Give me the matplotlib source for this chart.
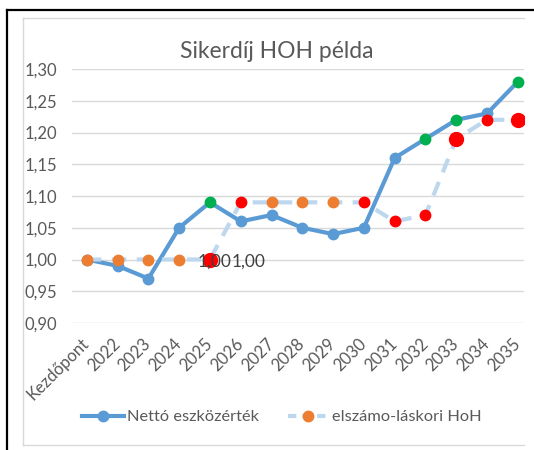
import matplotlib
matplotlib.use("Agg")
import matplotlib.pyplot as plt
from matplotlib.lines import Line2D

categories = ["Kezdőpont", "2022", "2023", "2024", "2025", "2026", "2027", "2028",
              "2029", "2030", "2031", "2032", "2033", "2034", "2035"]
netto = [1.00, 0.99, 0.97, 1.05, 1.09, 1.06, 1.07, 1.05, 1.04, 1.05, 1.16, 1.19, 1.22, 1.23, 1.28]
netto_colors = ["blue", "blue", "blue", "blue", "green", "blue", "blue", "blue", "blue",
                "blue", "blue", "green", "green", "blue", "green"]
hoh = [1.00, 1.00, 1.00, 1.00, 1.00, 1.09, 1.09, 1.09, 1.09, 1.09, 1.06, 1.07, 1.19, 1.22, 1.22]
hoh_colors = ["orange", "orange", "orange", "orange", "red", "red", "orange", "orange", "orange",
              "red", "red", "red", "red", "red", "red"]
hoh_big = [False, False, False, False, True, False, False, False, False,
           False, False, False, True, False, True]
yticks = [0.90, 0.95, 1.00, 1.05, 1.10, 1.15, 1.20, 1.25, 1.30]
title = "Sikerdíj HOH példa"
series_names = ["Nettó eszközérték", "elszámo-láskori HoH"]

palette = {"blue": "#5B9BD5", "green": "#00B050", "orange": "#ED7D31", "red": "#FF0000"}
TXT = "#595959"
FONT = ["Lato", "DejaVu Sans"]
plt.rcParams["font.family"] = FONT

W, H = 534, 450
fig = plt.figure(figsize=(W / 100, H / 100), dpi=100)

def fx(x): return x / W
def fy(y): return 1 - y / H

# borders
fig.add_artist(Line2D([fx(7), fx(7)], [fy(10), fy(452)], color="black", lw=1.6))
fig.add_artist(Line2D([fx(7), fx(536)], [fy(10), fy(10)], color="black", lw=1.6))
fig.add_artist(Line2D([fx(22.5), fx(22.5)], [fy(18), fy(445)], color="#D9D9D9", lw=1.0))
fig.add_artist(Line2D([fx(22.5), fx(524)], [fy(18), fy(18)], color="#D9D9D9", lw=1.0))
fig.add_artist(Line2D([fx(22.5), fx(524)], [fy(445), fy(445)], color="#D9D9D9", lw=1.0))

ax = fig.add_axes([fx(72), fy(323), fx(524) - fx(72), fy(69) - fy(323)])
x = list(range(len(categories)))

ax.plot(x, netto, color=palette["blue"], lw=3, solid_capstyle="round", zorder=3)
for xi, v, c in zip(x, netto, netto_colors):
    ax.plot(xi, v, "o", color=palette[c], ms=7.5, mec=palette[c], zorder=4)

ax.plot(x, hoh, color="#BDD7EE", lw=3, dashes=(3.5, 2.5), zorder=5)
for xi, v, c, b in zip(x, hoh, hoh_colors, hoh_big):
    ax.plot(xi, v, "o", color=palette[c], ms=10 if b else 7.5, mec=palette[c], zorder=6)

# data labels (two labels at the same point, side by side as in the reference)
lab1 = ax.annotate("1,00", (x[4], hoh[4]), xytext=(-9, -1.5), textcoords="offset points",
                   ha="left", va="center", fontsize=12.5, color="#404040", zorder=7)
ax.annotate("1,00", xy=(1.0, 0.5), xycoords=lab1, ha="left", va="center",
            fontsize=12.5, color="#404040", zorder=7)

ax.set_xlim(-0.48, 14.2)
ax.set_ylim(0.90, 1.30)
ax.set_yticks(yticks)
ax.set_yticklabels([f"{v:.2f}".replace(".", ",") for v in yticks])
ax.set_xticks(x)
ax.set_xticklabels(categories, rotation=45, ha="right", rotation_mode="anchor", va="center")
ax.tick_params(axis="both", length=0, labelsize=12, labelcolor=TXT)
ax.tick_params(axis="y", pad=10.5)
ax.tick_params(axis="x", pad=13)
ax.grid(axis="y", color="#D9D9D9", lw=1.0)
ax.set_axisbelow(True)
for s in ax.spines.values():
    s.set_visible(False)
ax.patch.set_alpha(0)

fig.text(fx(277), fy(52), title, ha="center", va="center", fontsize=16.5, color=TXT)

handles = [
    Line2D([], [], color=palette["blue"], lw=3, marker="o", ms=7.5),
    Line2D([], [], color="#BDD7EE", lw=3, dashes=(2, 1.5), marker="o", ms=7.5,
           mfc=palette["orange"], mec=palette["orange"]),
]
fig.legend(handles, series_names, loc="center", bbox_to_anchor=(fx(282), fy(417)), ncol=2,
           frameon=False, fontsize=11.8, labelcolor=TXT, handlelength=2.55, handletextpad=0.18,
           columnspacing=1.75)

fig.savefig("out.png", dpi=100, facecolor="white")
